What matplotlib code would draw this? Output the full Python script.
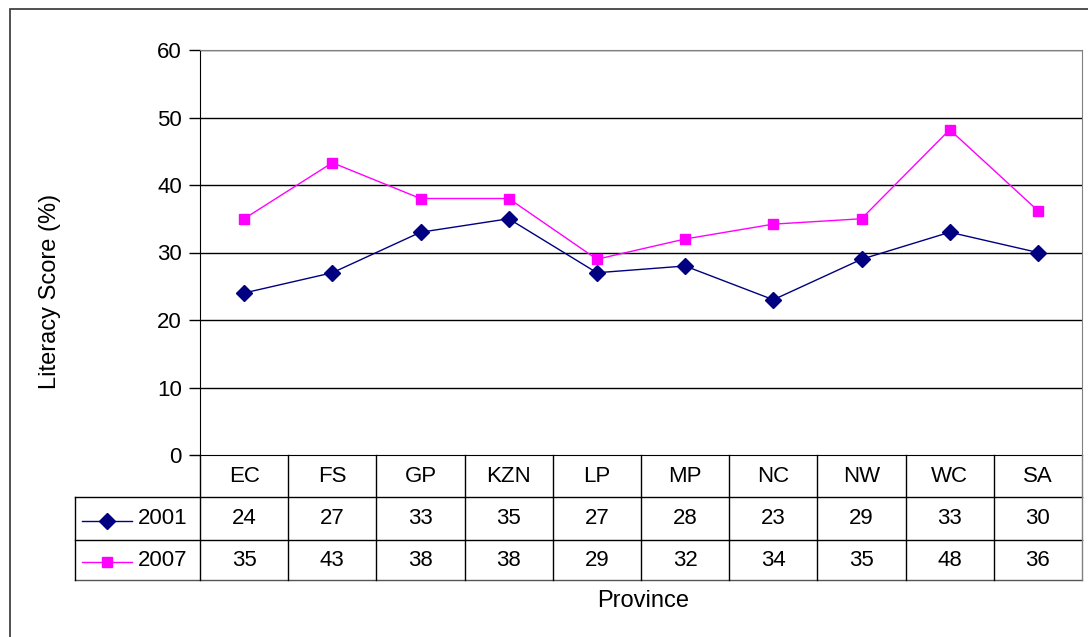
import matplotlib
matplotlib.use("Agg")
import matplotlib.pyplot as plt
from matplotlib.lines import Line2D
from matplotlib.patches import Rectangle

plt.rcParams['font.family'] = ['Liberation Sans', 'DejaVu Sans']

provinces = ["EC", "FS", "GP", "KZN", "LP", "MP", "NC", "NW", "WC", "SA"]
series_names = ["2001", "2007"]
values_2001 = [24, 27, 33, 35, 27, 28, 23, 29, 33, 30]
values_2007 = [35, 43.3, 38, 38, 29, 32, 34.2, 35, 48.2, 36.2]
table_2001 = [24, 27, 33, 35, 27, 28, 23, 29, 33, 30]
table_2007 = [35, 43, 38, 38, 29, 32, 34, 35, 48, 36]
yticks = [0, 10, 20, 30, 40, 50, 60]

FS_TXT = 16
FS_TITLE = 17

W, H = 1088, 637
fig = plt.figure(figsize=(W / 100, H / 100), dpi=100)

def fx(px):
    return px / W

def fy(py):
    return 1 - py / H

# outer frame
fig.patches.append(Rectangle((fx(10), fy(700)), fx(1200), fy(9) - fy(700),
                             transform=fig.transFigure, fill=False,
                             edgecolor="#333333", lw=1.2))

L, R, T, B = 200, 1082, 50, 455
ax = fig.add_axes([fx(L), fy(B), fx(R) - fx(L), fy(T) - fy(B)])
n = len(provinces)
xs = list(range(n))
ax.set_xlim(-0.5, n - 0.5)
ax.set_ylim(0, 60)
ax.set_yticks(yticks)
ax.set_yticklabels([str(v) for v in yticks], fontsize=FS_TXT)
ax.tick_params(axis='y', direction='out', length=8, width=1, pad=5, colors='black')
ax.set_xticks([])
for v in yticks[1:]:
    ax.axhline(v, color='black', lw=1, zorder=1)
for s in ['top', 'right']:
    ax.spines[s].set_color('#808080')
ax.spines['left'].set_color('black')
ax.spines['bottom'].set_color('black')

c1, c2 = '#000080', '#FF00FF'
ax.plot(xs, values_2001, color=c1, lw=1, marker='D', ms=8.5, mfc=c1, mec=c1, zorder=3)
ax.plot(xs, values_2007, color=c2, lw=1, marker='s', ms=7.5, mfc=c2, mec=c2, zorder=3)

fig.text(fx(50), fy(291), "Literacy Score (%)", rotation=90, fontsize=FS_TITLE,
         ha='center', va='center')

# data table
col_w = (R - L) / n
def hline(y, x0, x1, color='black'):
    fig.add_artist(Line2D([fx(x0), fx(x1)], [fy(y), fy(y)], transform=fig.transFigure,
                          color=color, lw=1))
def vline(x, y0, y1, color='black'):
    fig.add_artist(Line2D([fx(x), fx(x)], [fy(y0), fy(y1)], transform=fig.transFigure,
                          color=color, lw=1))

hline(497, 75, R)
hline(540, 75, R)
hline(580, 75, R, '#555555')
for i in range(n + 1):
    vline(L + i * col_w, 455, 580, 'black' if i < n else '#808080')
vline(75, 497, 580)

for i, p in enumerate(provinces):
    cx = L + (i + 0.5) * col_w
    fig.text(fx(cx), fy(476), p, fontsize=FS_TXT, ha='center', va='center')
    fig.text(fx(cx), fy(519), str(table_2001[i]), fontsize=FS_TXT, ha='center', va='center')
    fig.text(fx(cx), fy(560), str(table_2007[i]), fontsize=FS_TXT, ha='center', va='center')

# legend keys
for yy, col, mk, ms, name in [(519, c1, 'D', 8.5, series_names[0]),
                               (560, c2, 's', 7.5, series_names[1])]:
    fig.add_artist(Line2D([fx(82), fx(132)], [fy(yy + 2), fy(yy + 2)],
                          transform=fig.transFigure, color=col, lw=1))
    fig.add_artist(Line2D([fx(107)], [fy(yy + 2)], transform=fig.transFigure,
                          color=col, marker=mk, ms=ms, mfc=col, mec=col))
    fig.text(fx(138), fy(yy), name, fontsize=FS_TXT, ha='left', va='center')

fig.text(fx(643), fy(601), "Province", fontsize=FS_TITLE, ha='center', va='center')

fig.savefig("out.png", dpi=100)
